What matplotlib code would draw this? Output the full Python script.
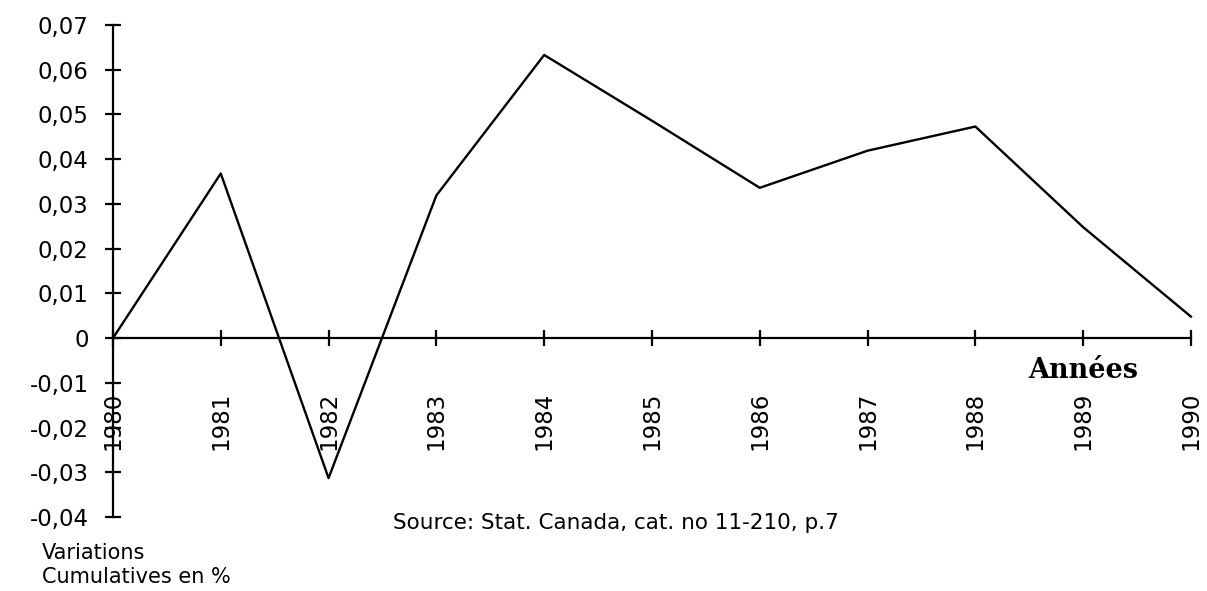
"""
Cumulative variations line chart, 1980-1990.
"""

import matplotlib
matplotlib.use("Agg")
from matplotlib import pyplot as plt

years = [1980, 1981, 1982, 1983, 1984, 1985, 1986, 1987, 1988, 1989, 1990]
variations = [0.0, 0.0368, -0.0313, 0.0319, 0.0633, 0.0486, 0.0336, 0.0419, 0.0473, 0.0248, 0.0048]

y_ticks = [-0.04, -0.03, -0.02, -0.01, 0.0, 0.01, 0.02, 0.03, 0.04, 0.05, 0.06, 0.07]
y_tick_labels = ["-0,04", "-0,03", "-0,02", "-0,01", "0", "0,01", "0,02",
                 "0,03", "0,04", "0,05", "0,06", "0,07"]
x_tick_labels = [str(y) for y in years]

fig = plt.figure(figsize=(12.07, 5.91), dpi=100)
ax = fig.add_axes([0.0936, 0.1252, 0.8931, 0.8325])

ax.plot(years, variations, color="black", linewidth=1.7, clip_on=False)

ax.set_xlim(years[0], years[-1])
ax.set_ylim(-0.04, 0.07)

"""
Axes: left spine full height, bottom spine drawn at zero
"""
ax.spines["top"].set_visible(False)
ax.spines["right"].set_visible(False)
ax.spines["bottom"].set_position(("data", 0))
ax.spines["left"].set_linewidth(1.6)
ax.spines["bottom"].set_linewidth(1.6)

ax.set_yticks(y_ticks)
ax.set_yticklabels(y_tick_labels)
ax.set_xticks(years)
ax.set_xticklabels(x_tick_labels, rotation=90, va="top")

ax.tick_params(axis="y", direction="inout", length=11, width=1.6, pad=12,
               labelsize=16.5, labelcolor="black")
ax.tick_params(axis="x", direction="inout", length=11, width=1.6, pad=33,
               labelsize=16.5)

ax.text(1989, -0.0072, "Années", fontsize=19.5, fontweight="bold",
        family="DejaVu Serif", ha="center", va="center")

fig.text(0.326, 0.115, "Source: Stat. Canada, cat. no 11-210, p.7", fontsize=15.5,
         ha="left", va="center")
fig.text(0.035, 0.044, "Variations\nCumulatives en %", fontsize=15,
         ha="left", va="center", linespacing=1.3)

fig.savefig("out.png", dpi=100)
